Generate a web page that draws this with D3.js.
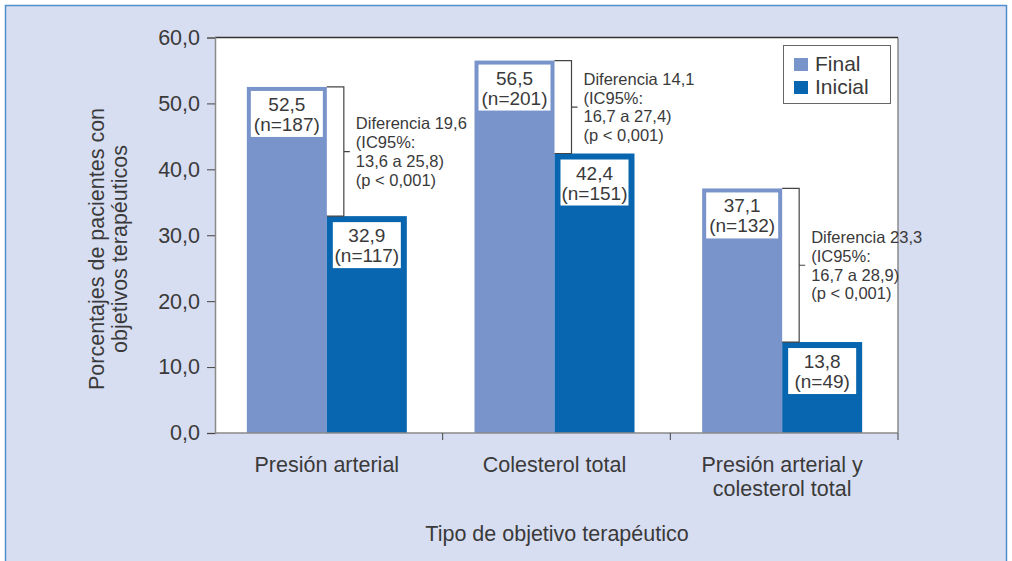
<!DOCTYPE html>
<html><head><meta charset="utf-8">
<script src="https://cdn.jsdelivr.net/npm/d3@7"></script>
<style>
html,body{margin:0;padding:0;background:#fff;}
svg text{font-family:"Liberation Sans",Arial,sans-serif;fill:#3a3a3a;}
</style></head>
<body>
<svg id="chart" width="1012" height="561"></svg>
<script>
const categories = [["Presión arterial"], ["Colesterol total"], ["Presión arterial y", "colesterol total"]];
const seriesNames = ["Final", "Inicial"];
const finalValues = [52.5, 56.5, 37.1];
const finalN = [187, 201, 132];
const inicialValues = [32.9, 42.4, 13.8];
const inicialN = [117, 151, 49];
const differences = [19.6, 14.1, 23.3];
const ciLow = [13.6, 16.7, 16.7];
const ciHigh = [25.8, 27.4, 28.9];
const pLabel = "p < 0,001";
const yTicks = [0, 10, 20, 30, 40, 50, 60];
const yTitle = ["Porcentajes de pacientes con", "objetivos terapéuticos"];
const xTitle = "Tipo de objetivo terapéutico";

(function () {
const colors = {Final: "#7894cb", Inicial: "#0866b0"};
const loc = d3.formatLocale({decimal: ",", thousands: ".", grouping: [3], currency: ["", ""]});
const f1 = loc.format(".1f");

const svg = d3.select("#chart");
svg.append("rect").attr("x", 5.5).attr("y", 5.5).attr("width", 1001).attr("height", 570)
  .attr("fill", "#d8def1").attr("stroke", "#4f8fcf").attr("stroke-width", 1.5);

const pLeft = 215, pRight = 898, pTop = 37.5, pBottom = 433;
const x0 = d3.scaleBand().domain(d3.range(categories.length)).range([pLeft - 2, pRight - 2]).paddingInner(0).paddingOuter(0);
const x1 = d3.scaleBand().domain(seriesNames).range([0, x0.bandwidth()]).paddingInner(0).paddingOuter(0.423);
const y = d3.scaleLinear().domain([0, 60]).range([pBottom, pTop]);

svg.append("rect").attr("x", pLeft).attr("y", pTop).attr("width", pRight - pLeft).attr("height", pBottom - pTop).attr("fill", "#fff");
svg.append("line").attr("x1", pRight).attr("x2", pRight).attr("y1", pTop).attr("y2", pBottom).attr("stroke", "#8a8a8a").attr("stroke-width", 1.5);
svg.append("line").attr("x1", pLeft).attr("x2", pRight).attr("y1", pTop).attr("y2", pTop).attr("stroke", "#333").attr("stroke-width", 1.5);

const groups = categories.map((c, i) => ({
  i, final: finalValues[i], inicial: inicialValues[i], fn: finalN[i], inn: inicialN[i]
}));

groups.forEach(g => {
  const gx = x0(g.i);
  [["Final", g.final, g.fn], ["Inicial", g.inicial, g.inn]].forEach(([s, v, n]) => {
    const bx = gx + x1(s), bw = x1.bandwidth(), by = y(v);
    svg.append("rect").attr("x", bx).attr("y", by).attr("width", bw).attr("height", y(0) - by).attr("fill", colors[s]);
    const inset = s === "Final" ? 4 : 6;
    svg.append("rect").attr("x", bx + inset).attr("y", by + inset).attr("width", bw - 2 * inset).attr("height", 46).attr("fill", "#fff");
    svg.append("text").attr("x", bx + bw / 2).attr("y", by + inset + 20).attr("text-anchor", "middle").attr("font-size", 19).text(f1(v));
    svg.append("text").attr("x", bx + bw / 2).attr("y", by + inset + 40).attr("text-anchor", "middle").attr("font-size", 19).text("(n=" + n + ")");
  });
  const xr = gx + x1("Final") + x1.bandwidth();
  const xb = xr + 17;
  const yt = y(g.final), yb = y(g.inicial), ym = (yt + yb) / 2;
  svg.append("path").attr("d", `M${xr},${yt}H${xb}V${yb}H${xr}M${xb},${ym}H${xb + 6}`)
    .attr("fill", "none").attr("stroke", "#444").attr("stroke-width", 1.2);
  const lines = ["Diferencia " + f1(differences[g.i]), "(IC95%:", f1(ciLow[g.i]) + " a " + f1(ciHigh[g.i]) + ")", "(" + pLabel + ")"];
  const t = svg.append("text").attr("font-size", 16.5).attr("y", ym - 1.5 * 18.7 + 6);
  lines.forEach((l, k) => t.append("tspan").attr("x", xb + 12).attr("dy", k === 0 ? 0 : 18.7).text(l));
});

const yAxis = svg.append("g").attr("transform", `translate(${pLeft},0)`)
  .call(d3.axisLeft(y).tickValues(yTicks).tickFormat(f1).tickSize(8).tickPadding(7));
yAxis.select(".domain").attr("stroke", "#8a8a8a").attr("stroke-width", 1.5);
yAxis.selectAll(".tick line").attr("stroke", "#444");
yAxis.selectAll(".tick text").attr("font-size", 21.5).attr("fill", "#3a3a3a").attr("font-family", "Liberation Sans, Arial, sans-serif");

svg.append("line").attr("x1", pLeft).attr("x2", pRight).attr("y1", pBottom).attr("y2", pBottom).attr("stroke", "#8a8a8a").attr("stroke-width", 1.5);
d3.range(categories.length).forEach(i => {
  const bx = x0(i) + x0.bandwidth() + 2;
  svg.append("line").attr("x1", bx).attr("x2", bx).attr("y1", pBottom).attr("y2", pBottom + 7).attr("stroke", "#444");
  const t = svg.append("text").attr("text-anchor", "middle").attr("font-size", 21.5).attr("y", 472);
  categories[i].forEach((l, k) => t.append("tspan").attr("x", x0(i) + x0.bandwidth() / 2).attr("dy", k === 0 ? 0 : 24).text(l));
});

svg.append("text").attr("x", 557).attr("y", 541).attr("text-anchor", "middle").attr("font-size", 21.5).text(xTitle);
const ytt = svg.append("text").attr("transform", "translate(104,249) rotate(-90)").attr("text-anchor", "middle").attr("font-size", 21.5);
yTitle.forEach((l, k) => ytt.append("tspan").attr("x", 0).attr("dy", k === 0 ? 0 : 23).text(l));

svg.append("rect").attr("x", 783.5).attr("y", 45.5).attr("width", 107).attr("height", 58).attr("fill", "#fff").attr("stroke", "#666");
seriesNames.forEach((s, k) => {
  svg.append("rect").attr("x", 794).attr("y", 58 + k * 23).attr("width", 14).attr("height", 13).attr("fill", colors[s]);
  svg.append("text").attr("x", 815).attr("y", 71 + k * 23).attr("font-size", 21).text(s);
});
})();
</script>
</body></html>
